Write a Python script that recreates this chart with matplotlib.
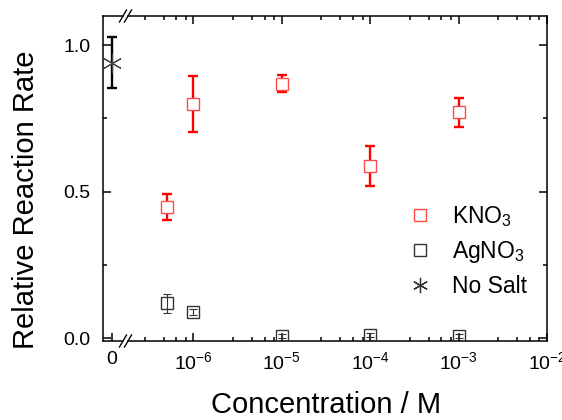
import matplotlib
matplotlib.use('Agg')
import matplotlib.pyplot as plt
from matplotlib.lines import Line2D
from matplotlib.ticker import FixedLocator, NullFormatter

plt.rcParams['font.family'] = ['Liberation Sans', 'DejaVu Sans']
plt.rcParams['mathtext.default'] = 'regular'

# ---- data ----
conc = [5e-7, 1e-6, 1e-5, 1e-4, 1e-3]
kno3 = [0.447, 0.799, 0.867, 0.587, 0.770]
kno3_err = [0.043, 0.096, 0.029, 0.069, 0.050]
agno3 = [0.118, 0.090, 0.008, 0.009, 0.008]
agno3_err = [0.033, 0.010, 0.007, 0.007, 0.007]
nosalt_x = [0]
nosalt = [0.939]
nosalt_err = [0.087]

x_decades = [1e-6, 1e-5, 1e-4, 1e-3, 1e-2]
x_decade_labels = ['10$^{-6}$', '10$^{-5}$', '10$^{-4}$', '10$^{-3}$', '10$^{-2}$']
y_ticks = [0.0, 0.5, 1.0]
y_tick_labels = ['0.0', '0.5', '1.0']
legend_labels = ['KNO$_3$', 'AgNO$_3$', 'No Salt']

W, H = 562, 420
fig = plt.figure(figsize=(W / 100, H / 100), dpi=100)

left, brk0, brk1, right = 103, 123, 128, 547
top, bottom = 16, 341
ax0 = fig.add_axes([left / W, 1 - bottom / H, (brk0 - left) / W, (bottom - top) / H])
ax1 = fig.add_axes([brk1 / W, 1 - bottom / H, (right - brk1) / W, (bottom - top) / H])

ylim = (-0.0102, 1.099)
for ax in (ax0, ax1):
    ax.set_ylim(*ylim)
    for s in ax.spines.values():
        s.set_linewidth(1.1)
ax0.spines['right'].set_visible(False)
ax1.spines['left'].set_visible(False)

# zero segment
ax0.set_xlim(-0.45, 0.55)
ax0.set_xticks([0])
ax0.set_xticklabels(['0'])
ax0.set_yticks(y_ticks)
ax0.set_yticklabels(y_tick_labels)
ax0.set_yticks([0.25, 0.75], minor=True)
ax0.tick_params(axis='both', which='both', direction='in', top=False, right=False,
                labelsize=14, width=1.1)
ax0.tick_params(which='major', length=6)
ax0.tick_params(which='minor', length=3)
ax0.tick_params(axis='y', pad=9)
ax0.tick_params(axis='x', pad=7)

# log segment
ax1.set_xscale('log')
ax1.set_xlim(10 ** -6.74, 1e-2)
ax1.set_xticks(x_decades)
ax1.set_xticklabels(x_decade_labels)
minor = [m * 10.0 ** e for e in range(-7, -2) for m in (2.8, 4.6, 6.4, 8.2)]
ax1.xaxis.set_minor_locator(FixedLocator(minor))
ax1.xaxis.set_minor_formatter(NullFormatter())
ax1.set_yticks(y_ticks)
ax1.set_yticks([0.25, 0.75], minor=True)
ax1.tick_params(axis='both', which='both', direction='in', top=True, right=True,
                left=False, labelleft=False, labelsize=14, width=1.1)
ax1.tick_params(which='major', length=6)
ax1.tick_params(which='minor', length=3)
ax1.tick_params(axis='x', pad=7)

# data
red_edge = '#ff4a4a'
gray = '#333333'
ax1.errorbar(conc, kno3, yerr=kno3_err, fmt='none', ecolor='red', elinewidth=1.7,
             capsize=3.7, capthick=1.7, zorder=2)
ax1.plot(conc, kno3, ls='none', marker='s', ms=8.5, mfc='white', mec=red_edge,
         mew=1.0, zorder=3)
ax1.errorbar(conc, agno3, yerr=agno3_err, fmt='none', ecolor=gray, elinewidth=0.8,
             capsize=2.9, capthick=0.8, zorder=2)
ax1.plot(conc, agno3, ls='none', marker='s', ms=8.5, mfc='none', mec=gray,
         mew=1.0, zorder=3)

ax0.errorbar(nosalt_x, nosalt, yerr=nosalt_err, fmt='none', ecolor='black',
             elinewidth=1.7, capsize=3.3, capthick=1.7, zorder=2, clip_on=False)
ax0.plot(nosalt_x, nosalt, ls='none', marker=(6, 2, 0), ms=14, color='#444444',
         mew=0.8, zorder=3, clip_on=False)

# break marks
for yb in (top, bottom):
    for xb in (brk0, brk1):
        fig.add_artist(Line2D([(xb - 3.5) / W, (xb + 3.5) / W],
                              [1 - (yb + 6) / H, 1 - (yb - 6) / H],
                              color='black', lw=1.0, transform=fig.transFigure))

# legend
handles = [
    Line2D([], [], ls='none', marker='s', ms=8.5, mfc='white', mec=red_edge, mew=1.0),
    Line2D([], [], ls='none', marker='s', ms=8.5, mfc='none', mec=gray, mew=1.0),
    Line2D([], [], ls='none', marker=(6, 2, 0), ms=11, color=gray, mew=0.9),
]
fig.legend(handles, legend_labels, frameon=False, fontsize=16.5, loc='upper left',
           bbox_to_anchor=(408.5 / W, 1 - 204 / H), borderpad=0, borderaxespad=0,
           handlelength=1.0, handletextpad=0.9, labelspacing=0.43)

# axis labels
fig.text(26 / W, 1 - 200 / H, 'Relative Reaction Rate', rotation=90, ha='center',
         va='center', fontsize=21)
fig.text(326 / W, 1 - 413 / H, 'Concentration / M', ha='center', va='baseline',
         fontsize=21)

fig.savefig('out.png', dpi=100)
